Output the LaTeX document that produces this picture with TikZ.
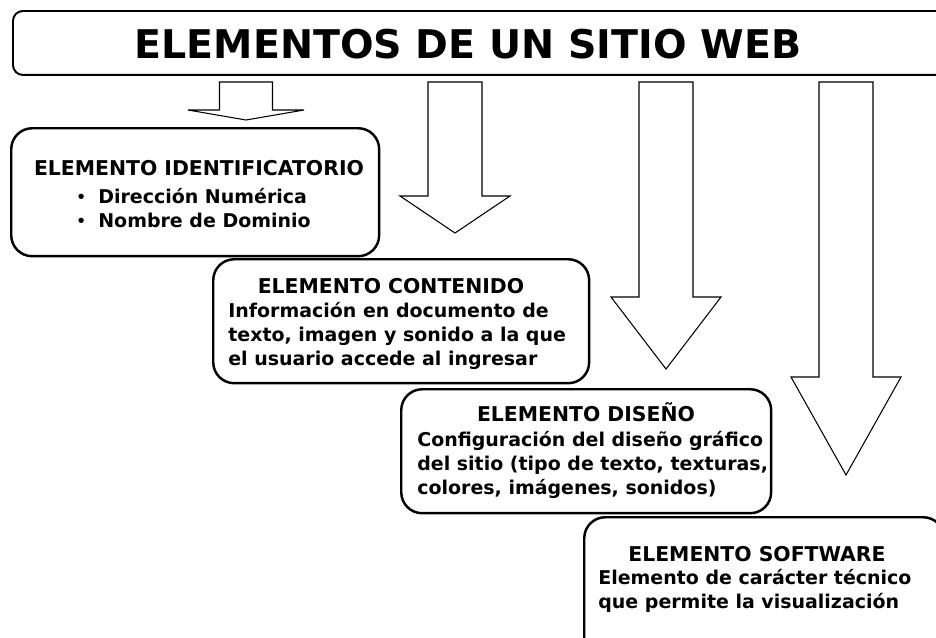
\documentclass[tikz,border=0pt]{standalone}
\usepackage{fontspec}
\setmainfont{DejaVu Sans}
\usetikzlibrary{positioning}

\newcommand{\elbullet}{\raisebox{0.8pt}{\scalebox{0.8}{•}}\hspace{7pt}}

\tikzset{
  elbox/.style={draw, line width=1.4pt, rounded corners=0.42cm, anchor=north west, inner sep=0pt},
  headtext/.style={font=\bfseries\fontsize{11.6}{13.7}\selectfont, inner sep=0pt},
  bodytext/.style={font=\bfseries\fontsize{10.8}{13.7}\selectfont, align=left, inner sep=0pt, anchor=west},
  blockarrow/.style={draw, line width=0.6pt, fill=white, line join=miter},
}

\begin{document}
\begin{tikzpicture}[x=0.02cm, y=-0.02cm]
\useasboundingbox (0,0) rectangle (936,637);

% title
\node[elbox, line width=1.1pt, rounded corners=0.2cm, minimum width=18.96cm, minimum height=1.28cm] (titlebox) at (12,10) {};
\node[font=\bfseries\fontsize{22.5}{27}\selectfont, inner sep=0pt] (titletext) at (468,44) {ELEMENTOS DE UN SITIO WEB};

% block arrows
\draw[blockarrow] (219.5,82) -- (272.5,82) -- (272.5,110) -- (304,110) -- (246,120) -- (188,110) -- (219.5,110) -- cycle;
\foreach \cx/\hb/\tip in {455/196/233, 666/297/369, 846/377/475}{
  \draw[blockarrow] ({\cx-27},82) -- ({\cx+27},82) -- ({\cx+27},\hb) -- ({\cx+55},\hb)
    -- (\cx,\tip) -- ({\cx-55},\hb) -- ({\cx-27},\hb) -- cycle;
}

% boxes
\node[elbox, minimum width=7.36cm, minimum height=2.56cm] (ident) at (10,127) {};
\node[elbox, minimum width=7.52cm, minimum height=2.48cm] (contenido) at (212,258) {};
\node[elbox, minimum width=7.4cm, minimum height=2.48cm] (diseno) at (400,388) {};
\node[elbox, minimum width=7.2cm, minimum height=3.4cm] (software) at (583,516) {};

% texts
\node[headtext] (identhead) at (199,168) {ELEMENTO IDENTIFICATORIO};
\node[bodytext] (identbody) at (76,208) {\elbullet Dirección Numérica\\ \elbullet Nombre de Dominio};

\node[headtext] (conthead) at (391,286) {ELEMENTO CONTENIDO};
\node[bodytext] (contbody) at (228,336) {Información en documento de\\ texto, imagen y sonido a la que\\ el usuario accede al ingresar};

\node[headtext] (disehead) at (586,412) {ELEMENTO DISEÑO};
\node[bodytext] (disebody) at (417,465) {Configuración del diseño gráfico\\ del sitio (tipo de texto, texturas,\\ colores, imágenes, sonidos)};

\node[headtext] (softhead) at (757,554) {ELEMENTO SOFTWARE};
\node[bodytext] (softbody) at (598,591) {Elemento de carácter técnico\\ que permite la visualización};
\end{tikzpicture}
\end{document}
